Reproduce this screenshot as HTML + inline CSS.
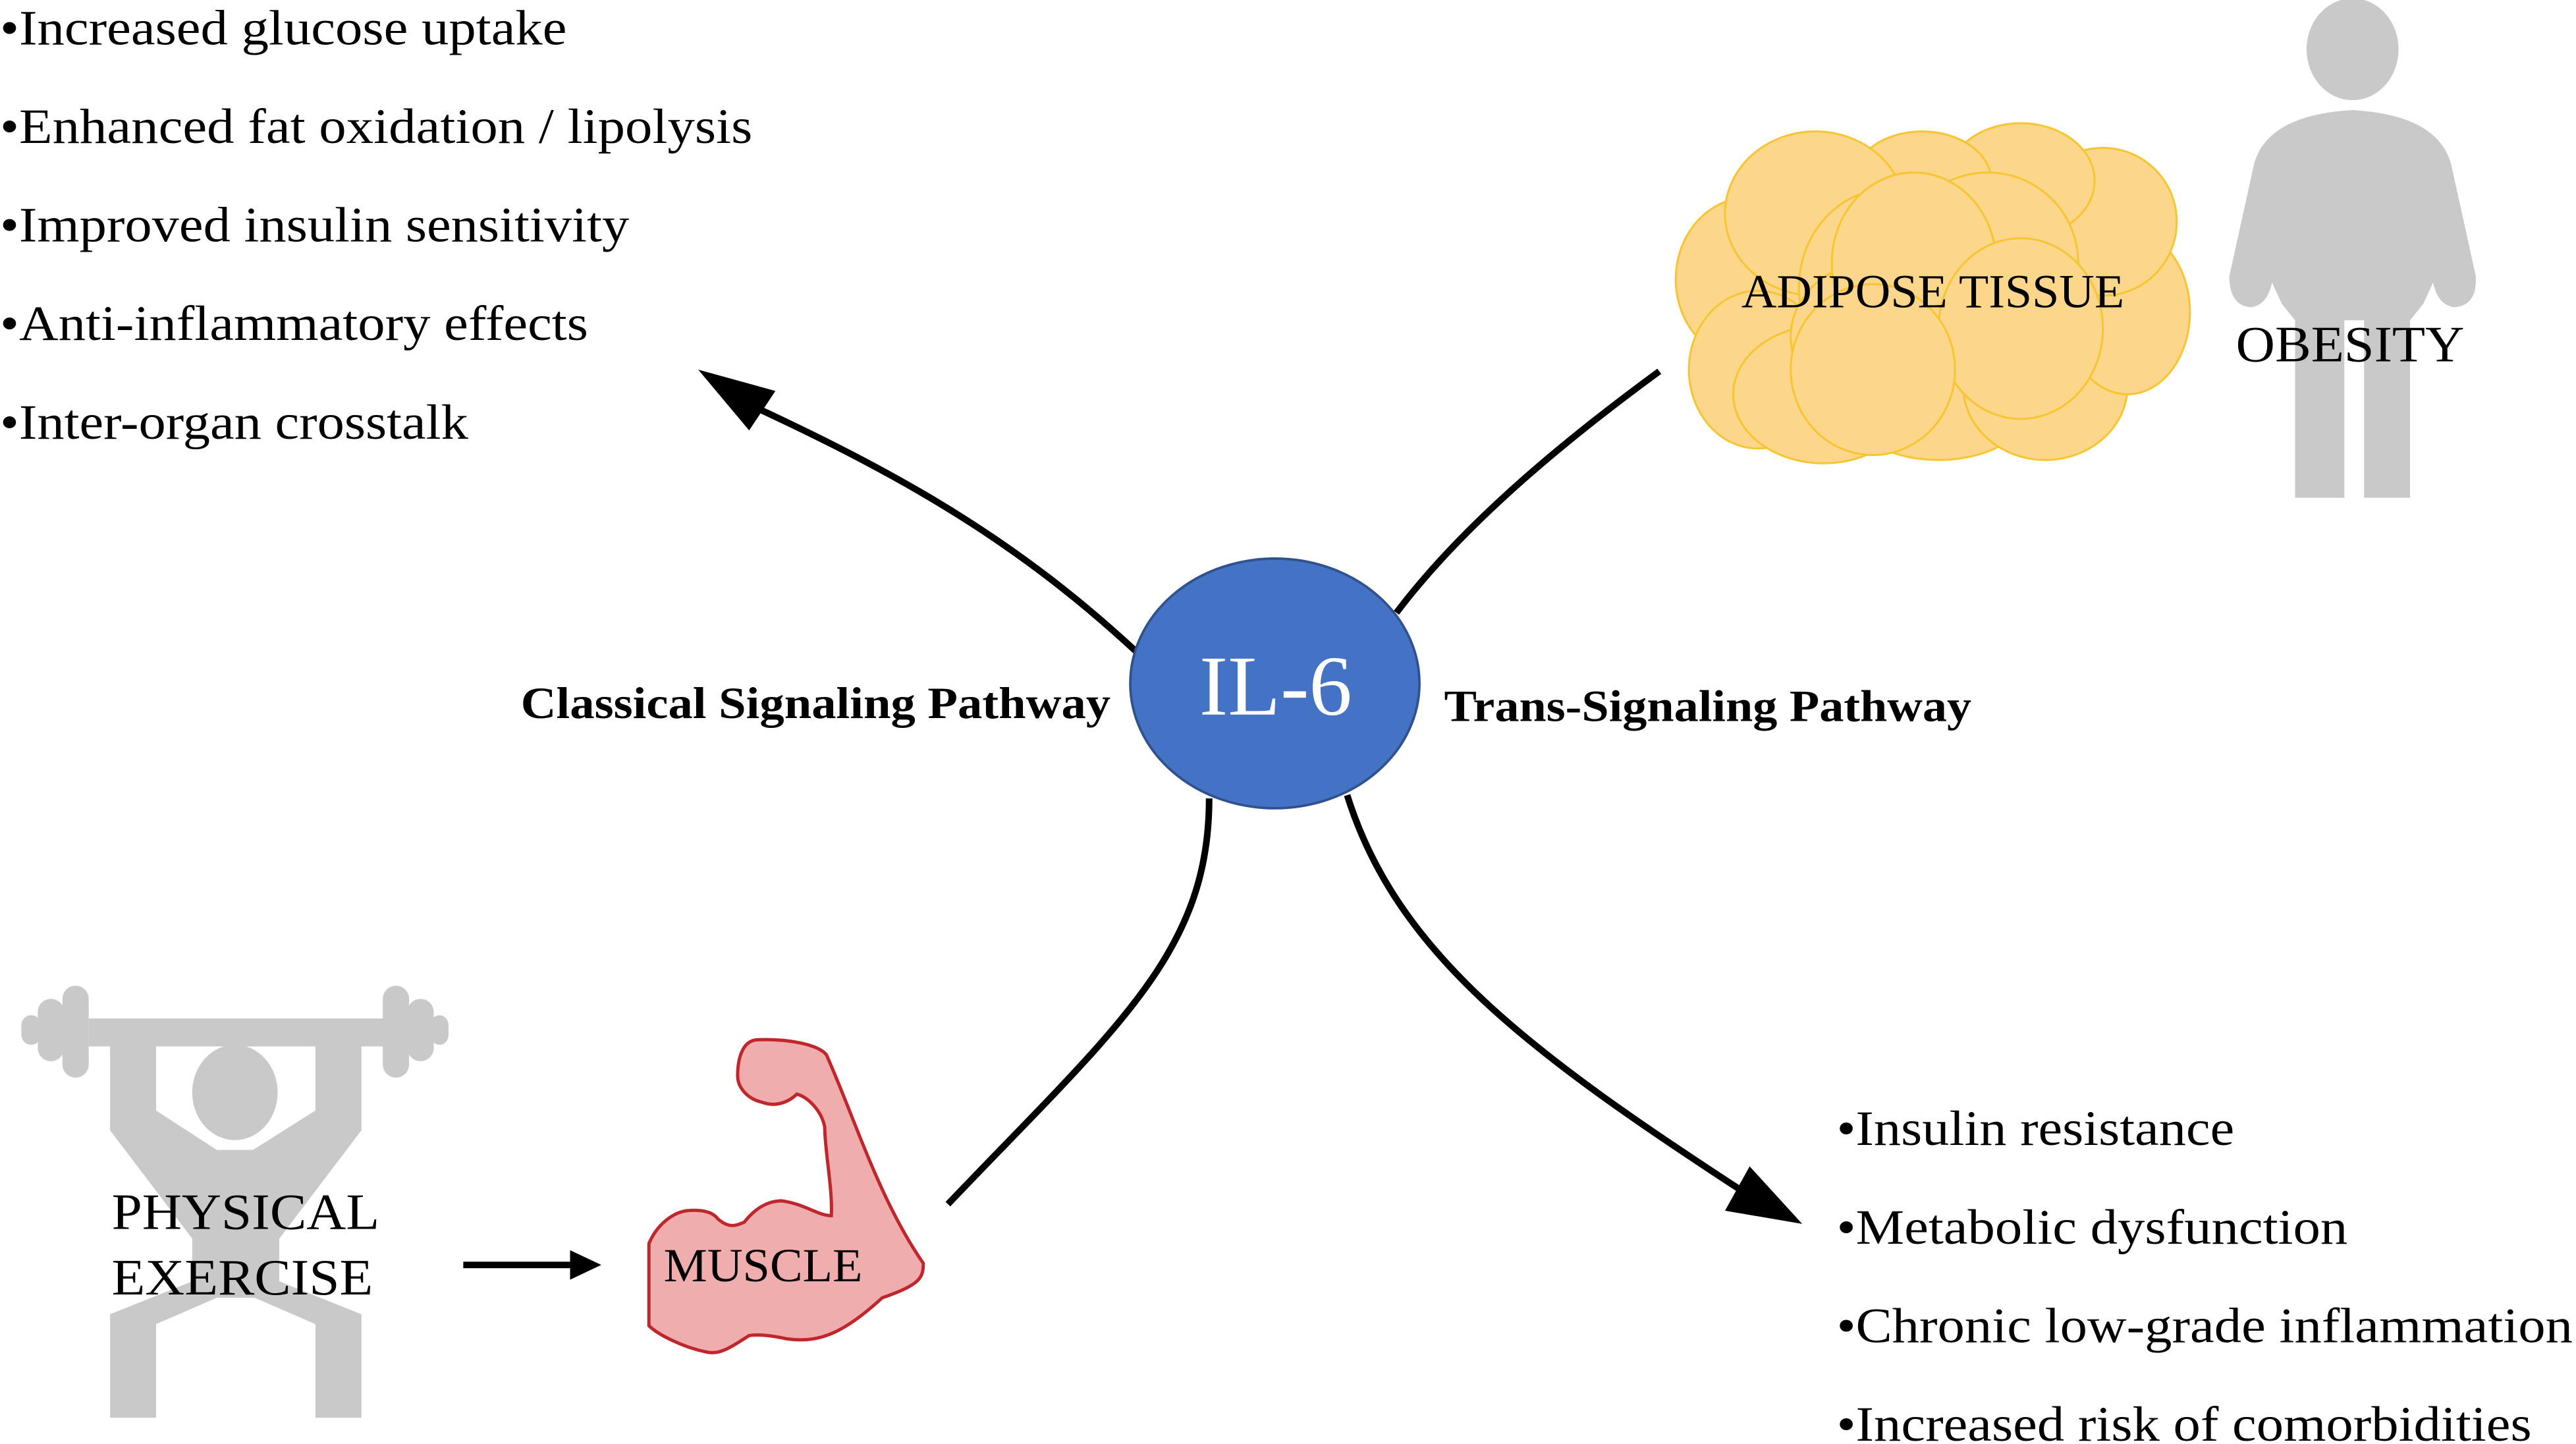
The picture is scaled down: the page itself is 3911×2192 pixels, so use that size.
<!DOCTYPE html>
<html><head><meta charset="utf-8"><style>
html,body{margin:0;padding:0;background:#fff;}
svg{display:block;}
text{font-family:"Liberation Serif",serif;}
</style></head><body>
<svg width="3911" height="2192" viewBox="0 0 1568 879" preserveAspectRatio="none" xmlns="http://www.w3.org/2000/svg">
<rect width="1568" height="879" fill="#fff"/>
<!-- top-left list -->
<g font-size="30" fill="#000">
<text x="0" y="27" textLength="345" lengthAdjust="spacingAndGlyphs">•Increased glucose uptake</text>
<text x="0" y="87" textLength="458" lengthAdjust="spacingAndGlyphs">•Enhanced fat oxidation / lipolysis</text>
<text x="0" y="147" textLength="383" lengthAdjust="spacingAndGlyphs">•Improved insulin sensitivity</text>
<text x="0" y="207" textLength="358" lengthAdjust="spacingAndGlyphs">•Anti-inflammatory effects</text>
<text x="0" y="267" textLength="285" lengthAdjust="spacingAndGlyphs">•Inter-organ crosstalk</text>
</g>
<!-- bottom-right list -->
<g font-size="30" fill="#000">
<text x="1118" y="697" textLength="242" lengthAdjust="spacingAndGlyphs">•Insulin resistance</text>
<text x="1118" y="757" textLength="311" lengthAdjust="spacingAndGlyphs">•Metabolic dysfunction</text>
<text x="1118" y="817" textLength="448" lengthAdjust="spacingAndGlyphs">•Chronic low-grade inflammation</text>
<text x="1118" y="877" textLength="423" lengthAdjust="spacingAndGlyphs">•Increased risk of comorbidities</text>
</g>
<!-- connectors -->
<g fill="none" stroke="#000" stroke-width="4">
<path d="M692,397 C620,330 550,290 462,249"/>
<path d="M850,373 C890,320 950,270 1010,226"/>
<path d="M736,486 C736,580 680,625 577,733"/>
<path d="M820,484 C850,580 930,640 1062,726"/>
<path d="M282,770 L350,770"/>
</g>
<polygon points="425,225 472,238 456,262" fill="#000"/>
<polygon points="1097,745 1050,737 1065,710" fill="#000"/>
<polygon points="366,770 347,761 347,779" fill="#000"/>
<!-- IL-6 -->
<ellipse cx="776" cy="416" rx="88" ry="76" fill="#4472C4" stroke="#2F528F" stroke-width="1.5"/>
<text x="730" y="435" font-size="52" fill="#fff" textLength="93" lengthAdjust="spacingAndGlyphs">IL-6</text>
<text x="317" y="437" font-size="27" font-weight="bold" textLength="359" lengthAdjust="spacingAndGlyphs">Classical Signaling Pathway</text>
<text x="879" y="439" font-size="27" font-weight="bold" textLength="321" lengthAdjust="spacingAndGlyphs">Trans-Signaling Pathway</text>
<!-- adipose cloud -->
<g fill="#FCD68A" stroke="#F7C530" stroke-width="1.2">
<ellipse cx="1065" cy="170" rx="45" ry="50"/>
<ellipse cx="1070" cy="225" rx="42" ry="48"/>
<ellipse cx="1110" cy="240" rx="55" ry="42"/>
<ellipse cx="1180" cy="248" rx="55" ry="32"/>
<ellipse cx="1245" cy="235" rx="50" ry="45"/>
<ellipse cx="1295" cy="190" rx="38" ry="50"/>
<ellipse cx="1280" cy="135" rx="45" ry="45"/>
<ellipse cx="1230" cy="110" rx="45" ry="35"/>
<ellipse cx="1170" cy="110" rx="42" ry="30"/>
<ellipse cx="1105" cy="130" rx="55" ry="50"/>
<ellipse cx="1150" cy="175" rx="55" ry="60"/>
<ellipse cx="1210" cy="160" rx="55" ry="55"/>
<ellipse cx="1140" cy="205" rx="50" ry="45"/>
<ellipse cx="1165" cy="160" rx="50" ry="55"/>
<ellipse cx="1230" cy="200" rx="50" ry="55"/>
<ellipse cx="1140" cy="225" rx="50" ry="52"/>
</g>
<text x="1060" y="187" font-size="29" textLength="233" lengthAdjust="spacingAndGlyphs">ADIPOSE TISSUE</text>
<!-- obesity person -->
<g fill="#C9C9C9">
<ellipse cx="1432" cy="30" rx="28" ry="31"/>
<path d="M1372,100 Q1380,70 1432,67 Q1484,70 1492,100 L1507,168 Q1508,186 1494,187 Q1484,186 1481,172 L1475,185 L1467,195 L1467,303 L1439,303 L1439,195 L1427,195 L1427,303 L1397,303 L1397,195 L1389,185 L1383,172 Q1380,186 1370,187 Q1357,186 1357,168 Z"/>
</g>
<text x="1361" y="220" font-size="31" textLength="139" lengthAdjust="spacingAndGlyphs">OBESITY</text>
<!-- weightlifter -->
<g fill="#C9C9C9">
<rect x="54" y="620" width="180" height="17"/>
<rect x="38" y="600" width="16" height="56" rx="8"/>
<rect x="23" y="608" width="16" height="38" rx="8"/>
<rect x="13" y="618" width="12" height="18" rx="6"/>
<rect x="233" y="600" width="16" height="56" rx="8"/>
<rect x="248" y="608" width="16" height="38" rx="8"/>
<rect x="262" y="618" width="11" height="18" rx="6"/>
<polygon points="67,636 95,636 95,676 132,700 154,700 192,676 192,636 220,636 220,688 170,754 170,780 220,800 220,863 192,863 192,806 155,790 132,790 95,806 95,863 67,863 67,800 117,780 117,754 67,688"/>
<ellipse cx="143" cy="665" rx="26" ry="29"/>
</g>
<text x="68" y="748" font-size="31" textLength="163" lengthAdjust="spacingAndGlyphs">PHYSICAL</text>
<text x="68" y="788" font-size="31" textLength="159" lengthAdjust="spacingAndGlyphs">EXERCISE</text>
<!-- muscle -->
<path d="M460,633 C480,632 498,636 503,642 C520,680 535,730 562,769 C562,778 560,782 537,790 C515,810 500,818 479,815 C470,813 462,812 456,813 C445,820 438,825 430,823 C415,820 400,812 395,807 L395,757 C400,745 410,738 418,737 C428,736 434,738 437,742 C444,748 448,746 453,744 C460,735 468,731 476,731 C490,733 498,740 506,740 C507,725 502,700 502,686 C500,676 492,668 485,666 C480,671 472,674 464,671 C455,669 449,662 449,655 C449,642 453,634 460,633 Z" fill="#F0ADAD" stroke="#C0272D" stroke-width="2"/>
<text x="404" y="780" font-size="29" textLength="121" lengthAdjust="spacingAndGlyphs">MUSCLE</text>
</svg>
</body></html>
